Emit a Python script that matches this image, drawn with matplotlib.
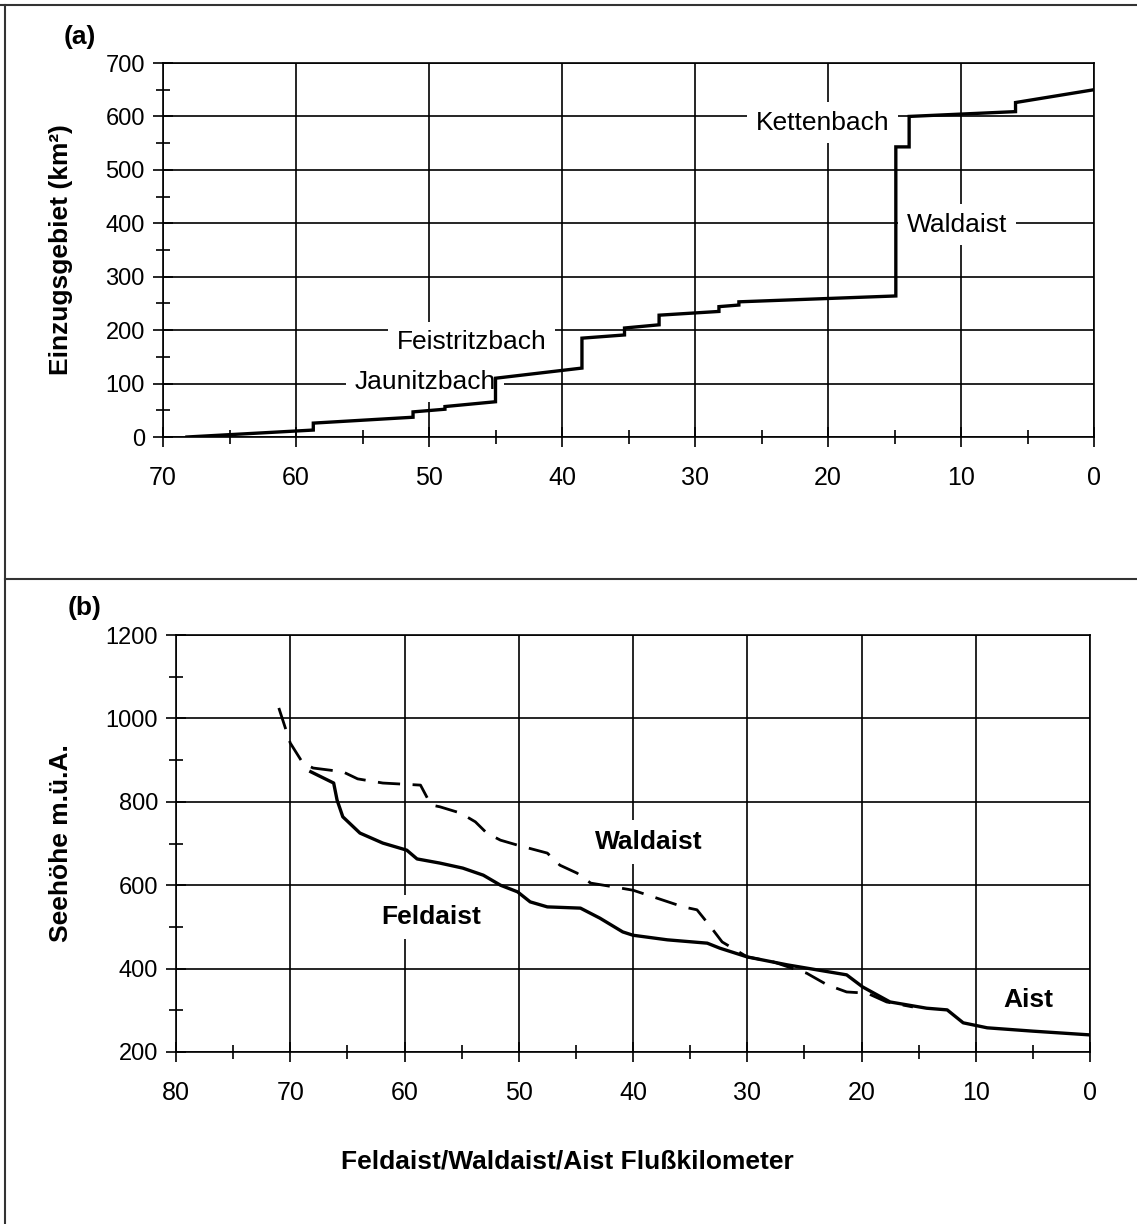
import matplotlib
matplotlib.use("Agg")
import matplotlib.pyplot as plt
from matplotlib.ticker import MultipleLocator
from matplotlib.lines import Line2D

plt.rcParams['font.family'] = ['Liberation Sans', 'DejaVu Sans']

# ---------------- data ----------------
# (a) cumulative catchment area along Waldaist/Aist (km, km²)
km_area = [68.2, 58.7, 58.7, 51.2, 51.2, 48.8, 48.8, 45.0, 45.0, 38.5, 38.5,
           35.3, 35.3, 32.7, 32.7, 28.2, 28.2, 26.7, 26.7, 14.9, 14.9, 13.9,
           13.9, 5.9, 5.9, 0.0]
area = [0, 13, 26, 37, 47, 52, 57, 66, 110, 129, 185,
        191, 204, 210, 228, 235, 244, 247, 253, 264, 543, 543,
        600, 609, 626, 650]

# (b) longitudinal profiles (km, m a.s.l.)
km_feld = [68.2, 66.2, 65.9, 65.4, 63.9, 61.9, 59.8, 58.9, 56.9, 54.9, 53.1,
           51.6, 50.1, 49.0, 47.5, 44.6, 42.9, 40.9, 40.0, 37.0, 33.5, 32.4,
           30.0, 26.5, 21.3, 19.9, 17.5, 14.3, 12.5, 11.1, 9.0, 5.0, 0.0]
elev_feld = [872, 845, 804, 764, 725, 701, 684, 663, 653, 641, 624,
             600, 584, 560, 548, 545, 521, 488, 480, 469, 461, 449,
             428, 409, 385, 356, 320, 305, 301, 270, 258, 250, 241]

km_wald = [71.0, 70.0, 68.9, 68.0, 65.4, 64.1, 61.9, 58.6, 58.0, 57.6, 56.9,
           55.1, 53.8, 52.8, 51.6, 50.1, 47.5, 46.4, 44.9, 43.7, 41.7, 40.0,
           35.6, 34.4, 33.2, 32.2, 30.0, 27.7, 24.8, 23.0, 21.3, 19.5, 17.8, 15.5]
elev_wald = [1025, 941, 893, 881, 872, 855, 845, 840, 809, 792, 788,
             773, 752, 725, 708, 696, 677, 648, 629, 605, 596, 588,
             548, 541, 500, 464, 428, 416, 389, 361, 344, 341, 320, 308]

xticks_a = [70, 60, 50, 40, 30, 20, 10, 0]
yticks_a = [0, 100, 200, 300, 400, 500, 600, 700]
xticks_b = [80, 70, 60, 50, 40, 30, 20, 10, 0]
yticks_b = [200, 400, 600, 800, 1000, 1200]

W, H = 1137, 1224
fig = plt.figure(figsize=(W / 100, H / 100), dpi=100)
fig.patch.set_facecolor('white')

def ax_rect(l, r, t, b):
    return [l / W, 1 - b / H, (r - l) / W, (b - t) / H]

ax_a = fig.add_axes(ax_rect(163, 1094, 63, 437))
ax_b = fig.add_axes(ax_rect(176, 1090, 635, 1052))

LW_GRID = 1.2
FS = 17      # tick labels
FL = 19      # annotations / axis labels

def style(ax):
    for s in ax.spines.values():
        s.set_linewidth(LW_GRID)
        s.set_color('black')
    ax.grid(True, which='major', color='black', linewidth=LW_GRID, zorder=1)
    ax.set_axisbelow(True)
    ax.tick_params(which='major', direction='inout', length=14, width=LW_GRID,
                   labelsize=FS, pad=4, top=False, right=False)
    ax.tick_params(which='minor', direction='inout', length=9.5, width=LW_GRID,
                   top=False, right=False)
    ax.xaxis.set_minor_locator(MultipleLocator(5))

# ---- panel (a)
style(ax_a)
ax_a.plot(km_area, area, color='black', linewidth=2.4, zorder=5,
          solid_joinstyle='miter')
ax_a.set_xlim(70, 0)
ax_a.set_ylim(0, 700)
ax_a.set_xticks(xticks_a)
ax_a.set_yticks(yticks_a)
ax_a.yaxis.set_minor_locator(MultipleLocator(50))
ax_a.tick_params(axis='x', pad=14, labelsize=18)
ax_a.tick_params(axis='y', pad=6)
ax_a.set_ylabel('Einzugsgebiet (km²)', fontsize=FL, fontweight='bold')
ax_a.yaxis.set_label_coords(-0.097, 0.5)

box = dict(facecolor='white', edgecolor='none', pad=6)
ax_a.text(46.8, 177, 'Feistritzbach', fontsize=FL, ha='center', va='center',
          bbox=box, zorder=3)
ax_a.text(50.3, 103, 'Jaunitzbach', fontsize=FL, ha='center', va='center',
          bbox=box, zorder=3)
ax_a.text(20.4, 588, 'Kettenbach', fontsize=FL, ha='center', va='center',
          bbox=box, zorder=3)
ax_a.text(10.3, 397, 'Waldaist', fontsize=FL, ha='center', va='center',
          bbox=box, zorder=3)

# ---- panel (b)
style(ax_b)
ax_b.plot(km_feld, elev_feld, color='black', linewidth=2.4, zorder=5)
ax_b.plot(km_wald, elev_wald, color='black', linewidth=2.0, zorder=5,
          linestyle=(0, (8, 4.5)))
ax_b.set_xlim(80, 0)
ax_b.set_ylim(200, 1200)
ax_b.set_xticks(xticks_b)
ax_b.set_yticks(yticks_b)
ax_b.yaxis.set_minor_locator(MultipleLocator(100))
ax_b.tick_params(axis='x', pad=14, labelsize=18)
ax_b.tick_params(axis='y', pad=6)
ax_b.set_ylabel('Seehöhe m.ü.A.', fontsize=FL, fontweight='bold')
ax_b.yaxis.set_label_coords(-0.113, 0.5)
ax_b.set_xlabel('Feldaist/Waldaist/Aist Flußkilometer', fontsize=FL,
                fontweight='bold')
ax_b.xaxis.set_label_coords(0.428, -0.233)

boxb = dict(facecolor='white', edgecolor='none', pad=7)
ax_b.text(57.7, 524, 'Feldaist', fontsize=FL, ha='center', va='center',
          fontweight='bold', bbox=boxb, zorder=3)
ax_b.text(38.6, 704, 'Waldaist', fontsize=FL, ha='center', va='center',
          fontweight='bold', bbox=boxb, zorder=3)
ax_b.text(5.4, 325, 'Aist', fontsize=FL, ha='center', va='center',
          fontweight='bold', bbox=boxb, zorder=3)

# panel letters
fig.text(80 / W, 1 - 37 / H, '(a)', fontsize=FL, fontweight='bold',
         ha='center', va='center')
fig.text(85 / W, 1 - 608 / H, '(b)', fontsize=FL, fontweight='bold',
         ha='center', va='center')

# frame lines
fig.add_artist(Line2D([0, 1], [1 - 5 / H, 1 - 5 / H], color='#333333',
                      linewidth=1.5, transform=fig.transFigure))
fig.add_artist(Line2D([5 / W, 5 / W], [0, 1 - 5 / H], color='#333333',
                      linewidth=1.5, transform=fig.transFigure))
fig.add_artist(Line2D([5 / W, 1], [1 - 579 / H, 1 - 579 / H], color='#333333',
                      linewidth=1.5, transform=fig.transFigure))

fig.savefig('out.png', dpi=100, facecolor='white')
